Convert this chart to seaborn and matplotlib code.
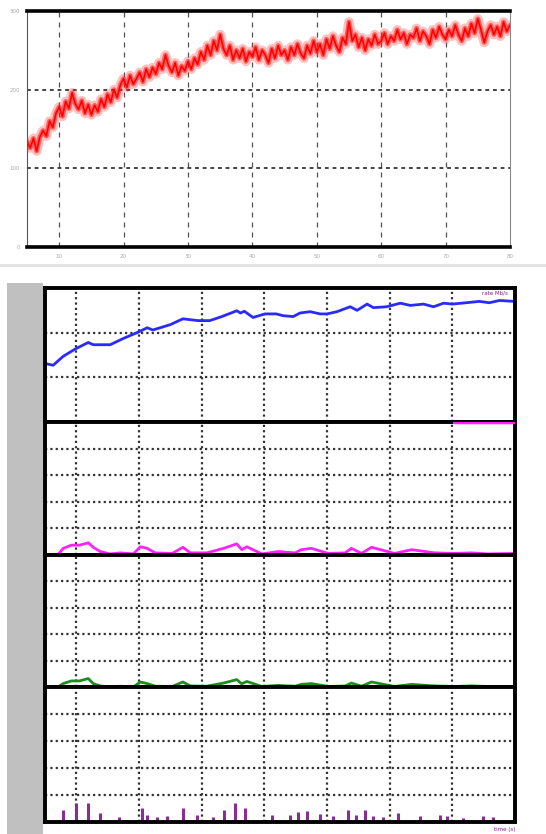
import numpy as np
import pandas as pd
import seaborn as sns
import matplotlib.pyplot as plt
from matplotlib.patches import Rectangle
from matplotlib.ticker import MultipleLocator

# ---- top chart: raw noisy signal (x 5..80 in steps of 0.5)
red_x = np.arange(5, 80.5, 0.5)
red_y = [134, 126, 138, 122, 140, 148, 141, 160, 152, 170,
         178, 166, 185, 176, 196, 182, 175, 186, 170, 181,
         168, 180, 172, 188, 178, 194, 184, 200, 190, 206,
         214, 203, 218, 207, 214, 222, 210, 226, 216, 228,
         220, 234, 226, 244, 230, 222, 234, 218, 230, 224,
         236, 226, 240, 232, 248, 238, 256, 244, 262, 250,
         270, 252, 244, 256, 238, 250, 240, 252, 236, 248,
         242, 254, 238, 250, 244, 234, 252, 240, 256, 244,
         250, 238, 254, 244, 258, 246, 240, 256, 246, 262,
         248, 258, 244, 264, 252, 268, 256, 248, 266, 258,
         286, 262, 270, 254, 266, 250, 264, 256, 270, 258,
         262, 272, 258, 268, 262, 276, 264, 272, 258, 270,
         266, 278, 262, 274, 268, 258, 276, 266, 280, 270,
         264, 276, 268, 282, 270, 262, 278, 268, 284, 272,
         290, 276, 260, 274, 282, 270, 280, 268, 286, 274,
         282]
top_xticks = [10, 20, 30, 40, 50, 60, 70, 80]
top_yticks = [0, 100, 200, 300]

# ---- bottom chart: smoothed rate
blue_x = [5, 6.3, 7.9, 9.9, 11.9, 12.7, 15.4, 17.5, 20, 21.3, 22.2, 25, 27,
          29.4, 31.3, 33.2, 35.6, 36.2, 36.8, 38.2, 40.1, 41.9, 43, 44.6,
          45.7, 47.3, 48.9, 50, 51.6, 53.7, 54.8, 56.4, 57.4, 59.5, 61.7,
          63.3, 65.4, 67, 68.6, 70, 72.2, 74.3, 75.9, 77.5, 80]
blue_y = [1.31, 1.27, 1.47, 1.64, 1.78, 1.73, 1.73, 1.87, 2.02, 2.11, 2.06,
          2.18, 2.31, 2.27, 2.27, 2.36, 2.49, 2.44, 2.48, 2.34, 2.42, 2.42,
          2.38, 2.36, 2.44, 2.47, 2.42, 2.42, 2.47, 2.58, 2.50, 2.64, 2.56,
          2.58, 2.66, 2.61, 2.64, 2.58, 2.66, 2.64, 2.67, 2.70, 2.67, 2.72,
          2.70]

# ---- loss / retransmission traces
sub_x = [5, 7.1, 7.9, 9.2, 10.5, 11.9, 12.7, 13.8, 15.4, 17, 19.1, 20.2,
         21.3, 22.6, 25.3, 27, 28.2, 30.8, 33.5, 35.6, 36.4, 37.2, 39.6,
         42.2, 44.9, 45.9, 47.5, 50.2, 52.9, 53.9, 55.5, 57.1, 60.8, 63.5,
         67.2, 70.4, 73, 75.7, 80]
magenta_y = [0.02, 0.02, 0.25, 0.37, 0.37, 0.46, 0.29, 0.13, 0.04, 0.08,
             0.04, 0.31, 0.25, 0.08, 0.06, 0.29, 0.08, 0.08, 0.25, 0.42,
             0.20, 0.31, 0.04, 0.13, 0.08, 0.20, 0.25, 0.06, 0.08, 0.25,
             0.06, 0.29, 0.06, 0.20, 0.08, 0.06, 0.08, 0.04, 0.06]
green_y = [0.0, 0.0, 0.13, 0.23, 0.23, 0.32, 0.13, 0.04, 0.0, 0.03, 0.0,
           0.19, 0.13, 0.03, 0.02, 0.19, 0.04, 0.03, 0.15, 0.28, 0.12,
           0.21, 0.02, 0.06, 0.03, 0.10, 0.13, 0.02, 0.04, 0.15, 0.03,
           0.19, 0.02, 0.10, 0.04, 0.02, 0.04, 0.02, 0.02]

# ---- event counts (stems)
bar_x = [7.9, 9.9, 11.9, 13.8, 16.8, 20.4, 21.2, 22.8, 24.4, 27, 29.2,
         31.8, 33.6, 35.3, 36.9, 41.2, 44.1, 45.4, 46.8, 48.9, 51, 53.4,
         54.7, 56.1, 57.4, 59, 61.4, 64.8, 68, 69.1, 71.7, 74.9, 76.5]
bar_h = [0.44, 0.70, 0.72, 0.33, 0.20, 0.52, 0.26, 0.20, 0.22, 0.52, 0.26,
         0.20, 0.44, 0.70, 0.52, 0.26, 0.26, 0.38, 0.42, 0.30, 0.22, 0.46,
         0.26, 0.46, 0.22, 0.20, 0.35, 0.22, 0.26, 0.22, 0.14, 0.22, 0.20]
grid_x = [10, 20, 30, 40, 50, 60, 70]

sns.set_theme(style="white")
plt.rcParams['font.family'] = ['DejaVu Sans']

W, H = 546, 834
fig = plt.figure(figsize=(W / 100, H / 100), dpi=100)
fig.patch.set_facecolor('white')

def box(x0, y0, x1, y1):
    # pixel box (top-left origin) -> figure fraction rect
    return [x0 / W, 1 - y1 / H, (x1 - x0) / W, (y1 - y0) / H]

# separator + grey strip of the lower window
fig.add_artist(Rectangle((0, 1 - 267 / H), 1, 3 / H, transform=fig.transFigure,
                         facecolor='#e4e4e4', edgecolor='none'))
fig.add_artist(Rectangle((7 / W, 0), 36 / W, 1 - 283 / H, transform=fig.transFigure,
                         facecolor='#c0c0c0', edgecolor='none'))

# ================= top chart =================
ax = fig.add_axes(box(27, 11, 510, 247))
df_red = pd.DataFrame({'t': red_x, 'v': red_y})
sns.lineplot(data=df_red, x='t', y='v', ax=ax, color='#ff3030', lw=7, alpha=0.3)
sns.lineplot(data=df_red, x='t', y='v', ax=ax, color='#ff1010', lw=3.5, alpha=0.55)
sns.lineplot(data=df_red, x='t', y='v', ax=ax, color='#ff0000', lw=1.2)
ax.set_xlim(5, 80)
ax.set_ylim(0, 300)
ax.set_xticks(top_xticks)
ax.set_yticks(top_yticks)
ax.set_xticklabels([str(v) for v in top_xticks], fontsize=4, color='#aaaaaa')
ax.set_yticklabels([str(v) for v in top_yticks], fontsize=4, color='#aaaaaa')
ax.xaxis.set_minor_locator(MultipleLocator(2))
ax.yaxis.set_minor_locator(MultipleLocator(10))
ax.tick_params(axis='both', which='major', length=3, width=0.8, color='#444444', pad=2)
ax.tick_params(axis='both', which='minor', length=2, width=0.8, color='#444444')
for v in grid_x:
    ax.axvline(v, color='#555555', lw=0.9, ls=(0, (4, 4)), zorder=0)
for v in [100, 200]:
    ax.axhline(v, color='#111111', lw=1.1, ls=(0, (2.5, 2.5)), zorder=0)
ax.spines['top'].set_linewidth(2.6)
ax.spines['bottom'].set_linewidth(2.6)
ax.spines['left'].set_linewidth(0.8)
ax.spines['left'].set_color('#555555')
ax.spines['right'].set_linewidth(0.8)
ax.spines['right'].set_color('#888888')
for s in ['top', 'bottom']:
    ax.spines[s].set_color('black')
ax.set_xlabel('')
ax.set_ylabel('')

# ================= bottom chart =================
rows = [(288, 422), (422, 555), (555, 687), (687, 822)]
panels = [fig.add_axes(box(45, a, 515, b)) for a, b in rows]
ylabels = ['Mbit', 'loss', 'rtx', 'evt']
purple = '#8b1a8b'

sns.lineplot(x=blue_x, y=blue_y, ax=panels[0], color='#2a2aff', lw=2)
sns.lineplot(x=sub_x, y=magenta_y, ax=panels[1], color='#ff22ff', lw=2)
sns.lineplot(x=sub_x, y=green_y, ax=panels[2], color='#1e8c1e', lw=2)
panels[3].vlines(bar_x, 0, bar_h, color='#8a2e96', lw=2.2)

limits = [(0, 3), (0, 5), (0, 5), (0, 5)]
for i, p in enumerate(panels):
    p.set_facecolor('white')
    p.set_xlim(5, 80)
    lo, hi = limits[i]
    p.set_ylim(lo, hi)
    p.set_yticks(range(lo, hi + 1))
    p.set_yticklabels([])
    p.set_xticks(grid_x)
    p.set_xticklabels([])
    p.yaxis.set_minor_locator(MultipleLocator(0.25 if hi == 3 else 0.5))
    p.tick_params(axis='y', which='major', length=9, width=2.2, color=purple, direction='out', pad=0)
    p.tick_params(axis='y', which='minor', length=2, width=1, color='#222222', direction='in')
    p.tick_params(axis='x', which='major', length=4 if i == 3 else 0, width=2, color='black')
    for v in grid_x:
        p.axvline(v, color='#333333', lw=1.6, ls=(0, (1, 1.4)), zorder=0)
    for v in range(lo + 1, hi):
        p.axhline(v, color='#333333', lw=1.6, ls=(0, (1, 1.4)), zorder=0)
    for s in ['left', 'right', 'top', 'bottom']:
        p.spines[s].set_color('black')
        p.spines[s].set_linewidth(2.8)
    p.set_ylabel('')
    p.text(-0.075, 1.0, ylabels[i], transform=p.transAxes, rotation=90,
           fontsize=4, color=purple, ha='center', va='top')

panels[0].text(0.985, 0.985, 'rate Mb/s', transform=panels[0].transAxes,
               fontsize=4, color=purple, ha='right', va='top')
panels[1].axhline(5, xmin=0.87, xmax=1.0, color='#ff22ff', lw=2.5, zorder=5)
fig.text(515 / W, 1 - 830 / H, 'time (s)', fontsize=4, color=purple,
         ha='right', va='center')

fig.savefig('out.png', dpi=100)
